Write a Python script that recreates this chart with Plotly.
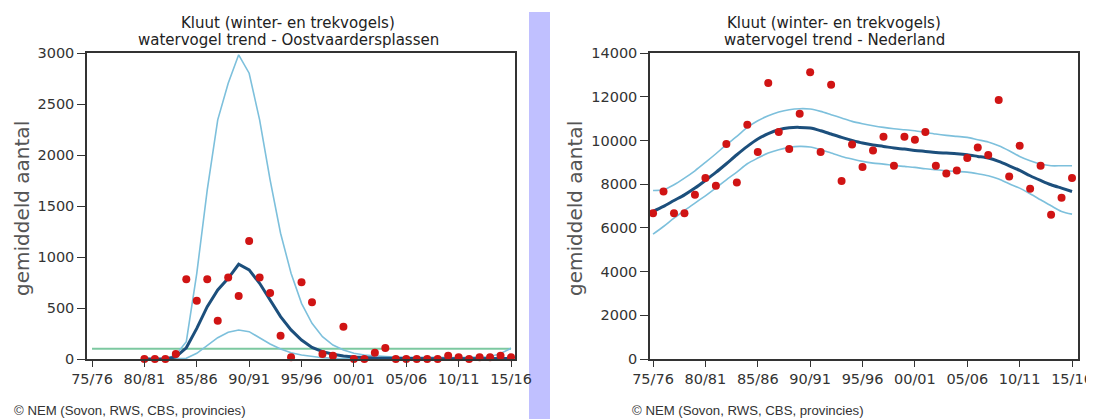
import plotly.graph_objects as go

W, H = 1094, 419
OFF = 8  # the page body adds an 8px margin; positions below are given in screen pixels

# ---------------- data ----------------
tick_years = [1975, 1980, 1985, 1990, 1995, 2000, 2005, 2010, 2015]
tick_labels = ["75/76", "80/81", "85/86", "90/91", "95/96", "00/01", "05/06", "10/11", "15/16"]

# Oostvaardersplassen (seasons 80/81 .. 15/16)
ovp_years = list(range(1980, 2016))
ovp_counts = [0, 0, 0, 49, 782, 572, 782, 376, 798, 618, 1158, 798, 647, 229, 16, 752, 556, 49, 33, 317,
              0, 0, 62, 108, 0, 0, 0, 0, 0, 33, 16, 0, 16, 16, 33, 16]
ovp_trend = [0, 0, 0, 20, 110, 300, 513, 677, 791, 929, 873, 742, 579, 415, 285, 186, 114, 72, 46, 29,
             20, 13, 9, 7, 5, 4, 3, 3, 3, 3, 3, 3, 3, 3, 4, 5]
ovp_upper = [0, 0, 3, 40, 170, 840, 1658, 2345, 2704, 2982, 2802, 2345, 1756, 1233, 840, 546, 350, 219, 137, 88,
             56, 39, 30, 25, 20, 18, 16, 15, 15, 15, 15, 16, 18, 22, 55, 105]
ovp_lower = [0, 0, 0, 1, 7, 56, 137, 209, 262, 284, 268, 209, 147, 98, 62, 39, 23, 13, 8, 5,
             3, 1, 1, 1, 1, 1, 1, 1, 1, 1, 1, 1, 1, 1, 1, 1]
ovp_level_years = [1975, 2015]
ovp_level = [100, 100]
ovp_yticks = [0, 500, 1000, 1500, 2000, 2500, 3000]

# Nederland (seasons 75/76 .. 15/16)
nl_years = list(range(1975, 2016))
nl_counts = [6673, 7665, 6673, 6673, 7513, 8276, 7925, 9834, 8078, 10720, 9467, 12628, 10384, 9605, 11223,
             13117, 9467, 12552, 8139, 9819, 8780, 9544, 10170, 8841, 10170, 10032, 10384, 8841, 8490, 8628,
             9193, 9681, 9330, 11850, 8353, 9758, 7788, 8841, 6597, 7375, 8276]
nl_trend = [6750, 6980, 7250, 7510, 7820, 8170, 8536, 8933, 9345, 9727, 10063, 10307, 10490, 10582, 10597,
            10567, 10445, 10292, 10139, 10002, 9880, 9788, 9727, 9651, 9605, 9544, 9498, 9452, 9421, 9391,
            9345, 9269, 9193, 9040, 8841, 8628, 8383, 8170, 7971, 7818, 7665]
nl_upper = [7711, 7742, 7971, 8276, 8612, 8994, 9391, 9803, 10185, 10597, 10903, 11132, 11300, 11407, 11452,
            11437, 11330, 11178, 11025, 10872, 10765, 10674, 10597, 10536, 10490, 10445, 10368, 10292, 10231,
            10185, 10139, 10032, 9926, 9758, 9529, 9269, 9070, 8918, 8841, 8841, 8841]
nl_lower = [5711, 6062, 6444, 6795, 7131, 7467, 7818, 8200, 8551, 8933, 9193, 9421, 9574, 9681, 9727,
            9697, 9574, 9421, 9269, 9147, 9040, 8963, 8918, 8856, 8811, 8765, 8704, 8658, 8612, 8582,
            8551, 8475, 8383, 8231, 8017, 7818, 7559, 7284, 7009, 6750, 6627]
nl_yticks = [0, 2000, 4000, 6000, 8000, 10000, 12000, 14000]

title_l1 = "Kluut (winter- en trekvogels)"
title_left = "watervogel trend - Oostvaardersplassen"
title_right = "watervogel trend - Nederland"
ylabel = "gemiddeld aantal"
footer = "© NEM (Sovon, RWS, CBS, provincies)"

# ---------------- styles ----------------
CI_COL = "#7dc0dc"
TREND_COL = "#1c4f7c"
DOT_COL = "#d01414"
LEVEL_COL = "#7cc8a0"
AX_COL = "#333333"
FONT = "DejaVu Sans"


def px(x):
    return (x - OFF) / W


def py(y):
    return 1 - (y - OFF) / H


fig = go.Figure()

# left panel
fig.add_trace(go.Scatter(x=ovp_level_years, y=ovp_level, mode="lines",
                         line=dict(color=LEVEL_COL, width=2), xaxis="x", yaxis="y"))
for arr in (ovp_upper, ovp_lower):
    fig.add_trace(go.Scatter(x=ovp_years, y=arr, mode="lines", line=dict(color=CI_COL, width=1.6),
                             xaxis="x", yaxis="y", cliponaxis=False))
fig.add_trace(go.Scatter(x=ovp_years, y=ovp_trend, mode="lines", line=dict(color=TREND_COL, width=3),
                         xaxis="x", yaxis="y", cliponaxis=False))
fig.add_trace(go.Scatter(x=ovp_years, y=ovp_counts, mode="markers", marker=dict(color=DOT_COL, size=8),
                         xaxis="x", yaxis="y", cliponaxis=False))

# right panel
for arr in (nl_upper, nl_lower):
    fig.add_trace(go.Scatter(x=nl_years, y=arr, mode="lines",
                             line=dict(color=CI_COL, width=1.6, shape="spline", smoothing=0.8),
                             xaxis="x2", yaxis="y2"))
fig.add_trace(go.Scatter(x=nl_years, y=nl_trend, mode="lines",
                         line=dict(color=TREND_COL, width=3, shape="spline", smoothing=0.8),
                         xaxis="x2", yaxis="y2"))
fig.add_trace(go.Scatter(x=nl_years, y=nl_counts, mode="markers", marker=dict(color=DOT_COL, size=8),
                         xaxis="x2", yaxis="y2", cliponaxis=False))

ydom = [py(359), py(53)]
axis_common = dict(showline=True, mirror=True, linecolor=AX_COL, linewidth=1.5, showgrid=False,
                   zeroline=False, ticks="outside", tickcolor=AX_COL, tickwidth=1.2, automargin=False,
                   tickfont=dict(family=FONT, size=14.5, color="#333333"))

fig.update_layout(
    template="none",
    width=W, height=H, margin=dict(l=0, r=0, t=0, b=0, pad=0, autoexpand=False),
    paper_bgcolor="white", plot_bgcolor="white", showlegend=False,
    xaxis=dict(domain=[px(87), px(515)], range=[1974.52, 2015.38], tickvals=tick_years,
               ticktext=tick_labels, ticklen=6, anchor="y", **axis_common),
    yaxis=dict(domain=ydom, range=[0, 3000], tickvals=ovp_yticks,
               ticktext=[str(v) for v in ovp_yticks], ticklen=8, anchor="x", **axis_common),
    xaxis2=dict(domain=[px(650), px(1078)], range=[1974.71, 2015.57], tickvals=tick_years,
                ticktext=tick_labels, ticklen=6, anchor="y2", **axis_common),
    yaxis2=dict(domain=ydom, range=[0, 14000], tickvals=nl_yticks,
                ticktext=[str(v) for v in nl_yticks], ticklen=8, anchor="x2", **axis_common),
    shapes=[dict(type="rect", xref="paper", yref="paper", x0=px(529), x1=px(550), y0=0, y1=py(12),
                 fillcolor="#c0c0ff", line=dict(width=0), layer="below")],
)

ann = []
tfont = dict(family=FONT, size=15, color="#222222")
for cx, sub in ((288, title_left), (834, title_right)):
    ann.append(dict(text=title_l1, x=px(cx), y=py(23), xref="paper", yref="paper", showarrow=False,
                    xanchor="center", yanchor="middle", font=tfont))
    ann.append(dict(text=sub, x=px(cx), y=py(40), xref="paper", yref="paper", showarrow=False,
                    xanchor="center", yanchor="middle", font=tfont))
for cx in (22, 575):
    ann.append(dict(text=ylabel, x=px(cx), y=py(209), xref="paper", yref="paper", showarrow=False,
                    textangle=-90, xanchor="center", yanchor="middle",
                    font=dict(family=FONT, size=20, color="#555555")))
for lx in (12, 630):
    ann.append(dict(text=footer, x=px(lx), y=py(410), xref="paper", yref="paper", showarrow=False,
                    xanchor="left", yanchor="middle",
                    font=dict(family="Liberation Sans", size=13.2, color="#333333")))
fig.update_layout(annotations=ann)

fig.write_html("out.html")
